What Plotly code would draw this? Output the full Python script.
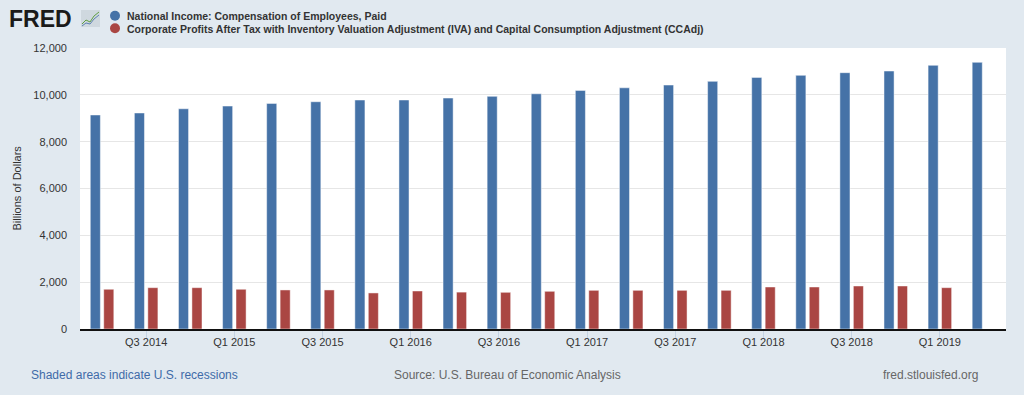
import plotly.graph_objects as go

quarters = ["2014 Q2", "2014 Q3", "2014 Q4", "2015 Q1", "2015 Q2", "2015 Q3", "2015 Q4",
            "2016 Q1", "2016 Q2", "2016 Q3", "2016 Q4", "2017 Q1", "2017 Q2", "2017 Q3",
            "2017 Q4", "2018 Q1", "2018 Q2", "2018 Q3", "2018 Q4", "2019 Q1", "2019 Q2"]
compensation = [9140, 9225, 9405, 9520, 9635, 9705, 9778, 9780, 9862, 9935, 10045,
                10190, 10300, 10418, 10575, 10745, 10832, 10946, 11016, 11260, 11388]
profits = [1697, 1765, 1765, 1697, 1667, 1667, 1540, 1624, 1575, 1567, 1610,
           1652, 1652, 1652, 1652, 1795, 1795, 1837, 1837, 1765, None]
tick_quarters = ["2014 Q3", "2015 Q1", "2015 Q3", "2016 Q1", "2016 Q3", "2017 Q1",
                 "2017 Q3", "2018 Q1", "2018 Q3", "2019 Q1"]
tick_labels = ["Q3 2014", "Q1 2015", "Q3 2015", "Q1 2016", "Q3 2016", "Q1 2017",
               "Q3 2017", "Q1 2018", "Q3 2018", "Q1 2019"]
y_ticks = [0, 2000, 4000, 6000, 8000, 10000, 12000]
series_names = ["National Income: Compensation of Employees, Paid",
                "Corporate Profits After Tax with Inventory Valuation Adjustment (IVA) and Capital Consumption Adjustment (CCAdj)"]

BLUE = "#4572a7"
RED = "#aa4643"
BG = "#e1e9f0"
FONT = "Liberation Sans, Arial, sans-serif"

W, H = 1024, 395
L, R, T, B = 80, 18, 48, 66
PW, PH = W - L - R, H - T - B


def px(x):
    return (x - L) / PW


def py(y):
    return (H - B - y) / PH


fig = go.Figure()
fig.add_trace(go.Bar(x=quarters, y=compensation, name=series_names[0],
                     marker=dict(color=BLUE, line=dict(color="rgba(255,255,255,0.6)", width=0.8)),
                     showlegend=False))
fig.add_trace(go.Bar(x=quarters, y=profits, name=series_names[1],
                     marker=dict(color=RED, line=dict(color="rgba(255,255,255,0.6)", width=0.8)),
                     showlegend=False))

shapes = []
annotations = []

# legend
for i, (name, col) in enumerate(zip(series_names, [BLUE, RED])):
    yc = 15.7 + i * 12.6
    shapes.append(dict(type="circle", xref="paper", yref="paper",
                       xsizemode="pixel", ysizemode="pixel",
                       xanchor=px(115), yanchor=py(yc),
                       x0=-5, x1=5, y0=-5, y1=5,
                       fillcolor=col, line=dict(width=0)))
    annotations.append(dict(text="<b>" + name + "</b>", xref="paper", yref="paper",
                            x=px(125), y=py(yc + 0.8), xanchor="left", yanchor="middle",
                            showarrow=False, font=dict(family=FONT, size=10.5, color="#333333")))

# FRED logo
annotations.append(dict(text="<b>FRED</b>", xref="paper", yref="paper",
                        x=px(7), y=py(19), xanchor="left", yanchor="middle",
                        showarrow=False, font=dict(family=FONT, size=23, color="#1a1a1a")))
shapes.append(dict(type="rect", xref="paper", yref="paper",
                   x0=px(81), x1=px(100), y0=py(27), y1=py(10),
                   fillcolor="#cfd8df", line=dict(width=0)))
shapes.append(dict(type="path", xref="paper", yref="paper",
                   path="M {},{} L {},{} L {},{} L {},{} L {},{}".format(
                       px(82), py(24), px(86), py(20), px(90), py(22), px(94), py(16), px(99), py(12)),
                   line=dict(color="#5e9e43", width=1)))
shapes.append(dict(type="path", xref="paper", yref="paper",
                   path="M {},{} L {},{} L {},{} L {},{} L {},{}".format(
                       px(82), py(26), px(86), py(23), px(90), py(24), px(94), py(19), px(99), py(15)),
                   line=dict(color="#5d82b0", width=1)))

# y axis title
annotations.append(dict(text="Billions of Dollars", xref="paper", yref="paper",
                        x=px(16), y=0.5, xanchor="center", yanchor="middle", textangle=-90,
                        showarrow=False, font=dict(family=FONT, size=11, color="#333333")))

# footer
annotations.append(dict(text="Shaded areas indicate U.S. recessions", xref="paper", yref="paper",
                        x=px(29), y=py(375), xanchor="left", yanchor="middle",
                        showarrow=False, font=dict(family=FONT, size=12, color="#3f6ba8")))
annotations.append(dict(text="Source: U.S. Bureau of Economic Analysis", xref="paper", yref="paper",
                        x=px(507), y=py(375), xanchor="center", yanchor="middle",
                        showarrow=False, font=dict(family=FONT, size=12, color="#666666")))
annotations.append(dict(text="fred.stlouisfed.org", xref="paper", yref="paper",
                        x=px(980), y=py(375), xanchor="right", yanchor="middle",
                        showarrow=False, font=dict(family=FONT, size=12, color="#666666")))

fig.update_layout(
    width=W, height=H,
    margin=dict(l=L, r=R, t=T, b=B, pad=0),
    paper_bgcolor=BG, plot_bgcolor="white",
    barmode="group", bargap=0.39, bargroupgap=0.25,
    font=dict(family=FONT, size=11, color="#333333"),
    shapes=shapes, annotations=annotations,
    showlegend=False,
    xaxis=dict(type="category", categoryorder="array", categoryarray=quarters,
               range=[-0.5, len(quarters) - 0.5],
               tickmode="array", tickvals=tick_quarters, ticktext=tick_labels,
               ticks="outside", ticklen=8, tickcolor="#c5d3e3", tickwidth=1,
               ticklabelstandoff=-6,
               showgrid=False, showline=True, linecolor="#111111", linewidth=2,
               tickfont=dict(family=FONT, size=11, color="#333333"), fixedrange=True),
    yaxis=dict(range=[0, 12000], tickmode="array", tickvals=y_ticks,
               tickformat=",d", showgrid=True, gridcolor="#e6e6e6", gridwidth=1,
               zeroline=False, ticks="", ticklabelstandoff=12,
               tickfont=dict(family=FONT, size=11, color="#333333"), fixedrange=True),
)

fig.write_html("out.html", config={"displayModeBar": False},
               post_script="document.body.style.margin='0';document.body.style.overflow='hidden';document.body.style.background='" + BG + "';")
